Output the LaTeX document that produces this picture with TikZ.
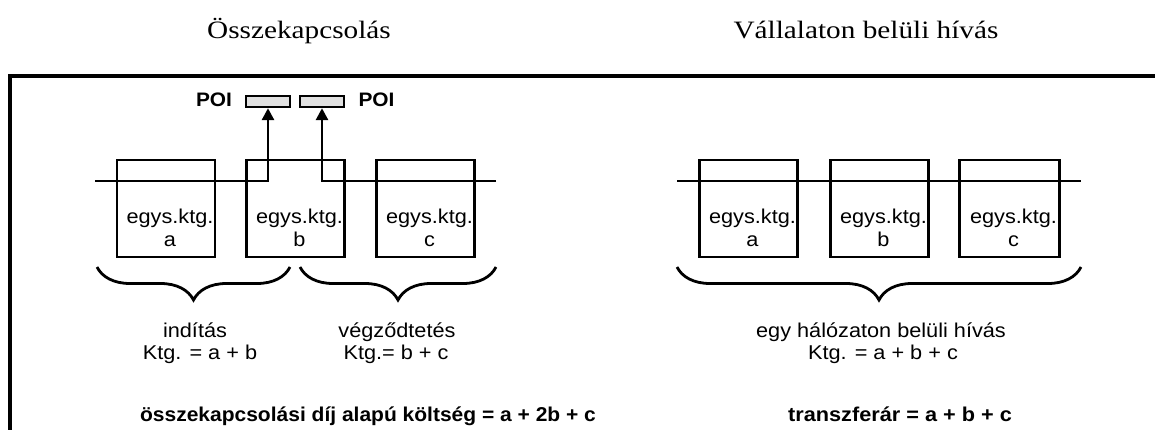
\documentclass[tikz,border=0pt]{standalone}
\usepackage{fontspec}
\setmainfont{Liberation Serif}
\newfontfamily\arialf{Liberation Sans}
\usetikzlibrary{arrows.meta,decorations.pathreplacing}
\newcommand\hsx[2]{\scalebox{#1}[1]{#2}}
\begin{document}
\begin{tikzpicture}[x=1pt,y=-1pt,
  ln/.style={line width=2.8pt},
  unitbox/.style={draw,line width=2.8pt,minimum width=98pt,minimum height=97pt,inner sep=0pt},
  poibox/.style={draw,line width=2.4pt,fill=black!12,minimum width=44pt,minimum height=11pt,inner sep=0pt},
  lbl/.style={font=\arialf\fontsize{20}{24}\selectfont,inner sep=0pt,anchor=base},
  blbl/.style={font=\arialf\bfseries\fontsize{20}{24}\selectfont,inner sep=0pt,anchor=base},
  poilbl/.style={font=\arialf\bfseries\fontsize{19.5}{23}\selectfont,inner sep=0pt,anchor=base},
  ttl/.style={font=\fontsize{25}{30}\selectfont,inner sep=0pt,anchor=base},
  brc/.style={decorate,decoration={brace,amplitude=33pt,mirror},line width=2.8pt},
  arr/.style={ln,-{Triangle[width=12pt,length=12pt]}}]
\useasboundingbox (0,0) rectangle (1155,430);
\clip (0,0) rectangle (1155,430);
% frame
\coordinate (fb) at (10,520);
\coordinate (fc) at (10,76);
\coordinate (fr) at (1250,76);
\draw[line width=4pt] (fb) -- (fc) -- (fr);
% titles
\node[ttl] (t1) at (299,39) {\hsx{1.17}{Összekapcsolás}};
\node[ttl] (t2) at (866,39) {\hsx{1.17}{Vállalaton belüli hívás}};
% left POI
\node[poibox] (p1) at (268,101.5) {};
\node[poibox] (p2) at (322,101.5) {};
\node[poilbl] (pl1) at (214,107) {\hsx{1.07}{POI}};
\node[poilbl] (pl2) at (376.5,107) {\hsx{1.07}{POI}};
% left line
\coordinate (l0) at (95,181);
\coordinate (l1) at (496,181);
\draw[arr] (l0) -- (p1.south |- l0) -- (p1.south);
\draw[arr] (l1) -- (p2.south |- l1) -- (p2.south);
% left boxes
\node[unitbox] (ba) at (166,208.5) {};
\node[unitbox] (bb) at (295.5,208.5) {};
\node[unitbox] (bc) at (425.5,208.5) {};
\foreach \b/\l in {ba/a,bb/b,bc/c}{
  \node[lbl] (\b t1) at ([xshift=4pt]\b.center |- 0,223) {\hsx{1.085}{egys.ktg.}};
  \node[lbl] (\b t2) at ([xshift=4pt]\b.center |- 0,247) {\hsx{1.085}{\l}};
}
% left braces
\draw[brc] (97,267) -- (290,267);
\draw[brc] (300,267) -- (496,267);
\node[lbl] (ind) at (195,337) {\hsx{1.085}{indítás}};
\node[lbl] (ind2) at (200,359) {\hsx{1.085}{Ktg. = a + b}};
\node[lbl] (veg) at (397,337) {\hsx{1.085}{végződtetés}};
\node[lbl] (veg2) at (396,359) {\hsx{1.085}{Ktg.= b + c}};
\node[blbl] (ossz) at (368,421) {\hsx{1.05}{összekapcsolási díj alapú költség = a + 2b + c}};
% right
\coordinate (r0) at (677,181);
\coordinate (r1) at (1081,181);
\draw[ln] (r0) -- (r1);
\node[unitbox] (ra) at (748.5,208.5) {};
\node[unitbox] (rb) at (879.5,208.5) {};
\node[unitbox,minimum width=100pt] (rc) at (1009.5,208.5) {};
\foreach \b/\l in {ra/a,rb/b,rc/c}{
  \node[lbl] (\b t1) at ([xshift=4pt]\b.center |- 0,223) {\hsx{1.085}{egys.ktg.}};
  \node[lbl] (\b t2) at ([xshift=4pt]\b.center |- 0,247) {\hsx{1.085}{\l}};
}
\draw[brc] (677,267) -- (1081,267);
\node[lbl] (egy) at (881,337) {\hsx{1.085}{egy hálózaton belüli hívás}};
\node[lbl] (egy2) at (883,359) {\hsx{1.085}{Ktg. = a + b + c}};
\node[blbl] (tr) at (900,421) {\hsx{1.085}{transzferár = a + b + c}};
\end{tikzpicture}
\end{document}
